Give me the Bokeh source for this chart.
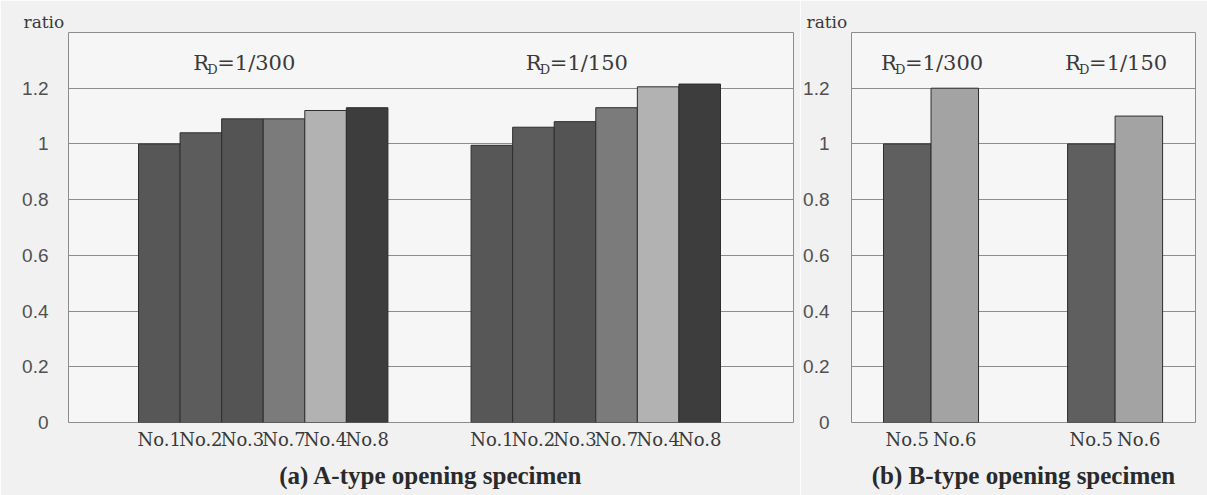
from bokeh.plotting import figure
from bokeh.models import ColumnDataSource, FixedTicker, Range1d, Label, Title, NumeralTickFormatter
from bokeh.layouts import row
from bokeh.embed import file_html
from bokeh.resources import INLINE

# ---------------- data ----------------
drift_levels = ["1/300", "1/150"]

specimens_a = ["No.1", "No.2", "No.3", "No.7", "No.4", "No.8"]
ratio_a_1_300 = [1.00, 1.04, 1.09, 1.09, 1.12, 1.13]
ratio_a_1_150 = [0.995, 1.06, 1.08, 1.13, 1.205, 1.215]

specimens_b = ["No.5", "No.6"]
ratio_b_1_300 = [1.00, 1.20]
ratio_b_1_150 = [1.00, 1.10]

y_ticks = [0, 0.2, 0.4, 0.6, 0.8, 1.0, 1.2]

title_a = "(a) A-type opening specimen"
title_b = "(b) B-type opening specimen"
y_name = "ratio"

# ---------------- styles ----------------
colors_a = ["#575757", "#5c5c5c", "#545454", "#7b7b7b", "#b2b2b2", "#3d3d3d"]
colors_b = ["#5f5f5f", "#a3a3a3"]
PAGE_BG = "#f1f1f1"
PLOT_BG = "#f6f6f6"
GRID = "#8c8c8c"
TXT = "#3a3a3a"


def make_panel(specimens, series, colors, group_step, xr, width, ml, mr,
               title, label_shift, ystand):
    xs, tops, cols, names = [], [], [], []
    for g, vals in enumerate(series):
        for i, v in enumerate(vals):
            xs.append(1 + i + group_step * g)
            tops.append(v)
            cols.append(colors[i])
            names.append(specimens[i])
    src = ColumnDataSource(dict(x=xs, top=tops, color=cols, name=names))

    p = figure(width=width, height=495, output_backend="svg", toolbar_location=None,
               x_range=Range1d(*xr), y_range=Range1d(0, 1.4),
               min_border_left=ml, min_border_right=mr, min_border_top=32,
               min_border_bottom=73)
    p.background_fill_color = PLOT_BG
    p.border_fill_color = PAGE_BG
    p.outline_line_color = GRID
    p.outline_line_width = 1

    p.vbar(x="x", top="top", bottom=0, width=1, fill_color="color",
           line_color="#2e2e2e", line_width=1, source=src)

    # axes
    p.xaxis.ticker = FixedTicker(ticks=xs)
    p.xaxis.major_label_overrides = {x: n for x, n in zip(xs, names)}
    p.xaxis.axis_line_color = None
    p.xaxis.major_tick_line_color = None
    p.xaxis.minor_tick_line_color = None
    p.xaxis.major_label_text_font = "DejaVu Serif"
    p.xaxis.major_label_text_font_size = "18px"
    p.xaxis.major_label_text_color = TXT
    p.xaxis.major_label_standoff = 0

    p.yaxis.ticker = FixedTicker(ticks=y_ticks)
    p.yaxis.formatter = NumeralTickFormatter(format="0.[0]")
    p.yaxis.axis_line_color = None
    p.yaxis.major_tick_line_color = None
    p.yaxis.minor_tick_line_color = None
    p.yaxis.major_label_text_font = "Liberation Sans"
    p.yaxis.major_label_text_font_size = "19px"
    p.yaxis.major_label_text_color = "#505050"
    p.yaxis.major_label_standoff = ystand

    p.xgrid.visible = False
    p.ygrid.ticker = FixedTicker(ticks=y_ticks)
    p.ygrid.grid_line_color = GRID
    p.ygrid.grid_line_width = 1

    # "ratio" name above the y axis
    p.add_layout(Title(text=y_name, align="left", offset=-45, standoff=1,
                       text_font="DejaVu Serif", text_font_size="17px",
                       text_font_style="normal", text_color=TXT), "above")

    # R_D = drift labels
    for g, lvl in enumerate(drift_levels):
        cx = 1 + (len(specimens) - 1) / 2 + group_step * g
        base = 1.292
        p.add_layout(Label(x=cx, y=base, x_offset=label_shift - 50, text="R",
                           text_font="DejaVu Serif", text_font_size="21px",
                           text_color=TXT, text_baseline="middle", text_align="left"))
        p.add_layout(Label(x=cx, y=base, x_offset=label_shift - 36, y_offset=-7, text="D",
                           text_font="DejaVu Serif", text_font_size="13px",
                           text_color=TXT, text_baseline="middle", text_align="left"))
        p.add_layout(Label(x=cx, y=base, x_offset=label_shift - 26, text="=" + lvl,
                           text_font="DejaVu Serif", text_font_size="21px",
                           text_color=TXT, text_baseline="middle", text_align="left"))

    t = Title(text=title, align="center", text_font="Liberation Serif",
              text_font_style="bold", text_font_size="25px", text_color="#2a2a2a",
              standoff=14)
    p.add_layout(t, "below")
    return p


pa = make_panel(specimens_a, [ratio_a_1_300, ratio_a_1_150], colors_a, 8,
                (-1.184, 16.256), 800, 68, 7, title_a, -20, 14)
pb = make_panel(specimens_b, [ratio_b_1_300, ratio_b_1_150], colors_b, 3.875,
                (-0.174, 7.068), 407, 51, 12, title_b, 0, 16)

layout = row(pa, pb, spacing=0)
open("out.html", "w").write(file_html(layout, INLINE))
